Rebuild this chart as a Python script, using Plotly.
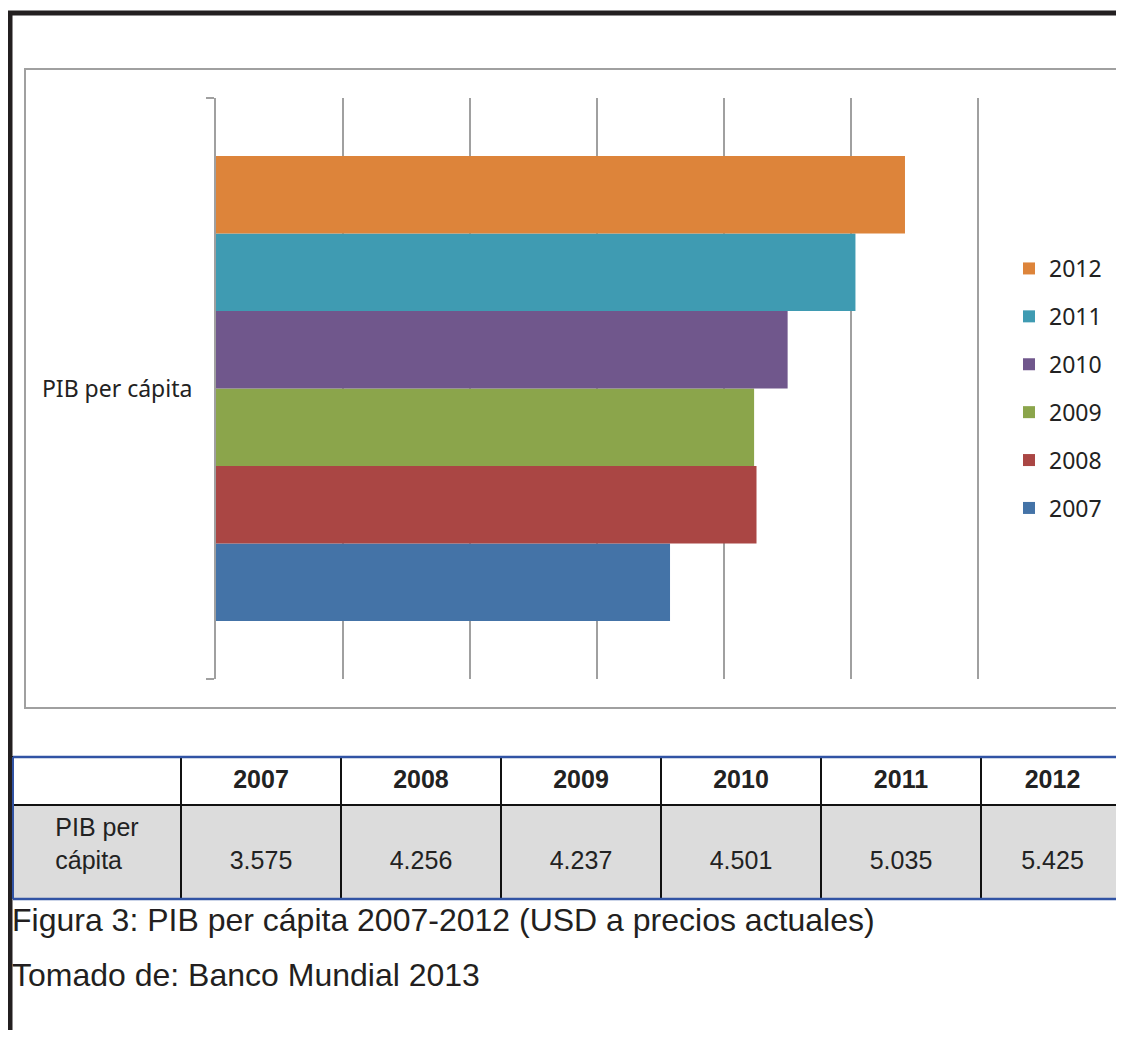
import plotly.graph_objects as go

# ---- data ----
years = ["2007", "2008", "2009", "2010", "2011", "2012"]
gdp_per_capita = [3575, 4256, 4237, 4501, 5035, 5425]
category = "PIB per cápita"
row_label = "PIB per<br>cápita"
colors = ["#4473A7", "#AA4644", "#8BA54B", "#70578C", "#3F9BB2", "#DD843A"]
caption_1 = "Figura 3: PIB per cápita 2007-2012 (USD a precios actuales)"
caption_2 = "Tomado de: Banco Mundial 2013"

# page has an 8px body margin: figure starts at (8, 8)
OFF = 8
W, H = 1124 - OFF, 1038 - 2 * OFF


def px(x):
    return (x - OFF) / W


def py(y):
    return 1 - (y - OFF) / H


fig = go.Figure()
n = len(years)
for i, (yr, val, col) in enumerate(zip(years, gdp_per_capita, colors)):
    fig.add_trace(go.Bar(
        x=[val], y=[category], orientation="h", name=yr, legendgroup=yr,
        legendrank=n - i,
        marker=dict(color=col, line=dict(width=0)),
        hoverinfo="x+name",
    ))


def fmt(v):
    return f"{v:,}".replace(",", ".")


tfont = "Liberation Sans, Arial"
fig.add_trace(go.Table(
    domain=dict(x=[px(13), 1.0], y=[max(0, py(899)), py(757)]),
    columnwidth=[168, 160, 160, 160, 160, 160, 143],
    header=dict(
        values=[""] + [f"<b>{y}</b>" for y in years],
        height=48, align="center",
        fill=dict(color="white"),
        line=dict(color="#111111", width=2),
        font=dict(family=tfont, size=25, color="#222222"),
    ),
    cells=dict(
        values=[[row_label]] + [["&nbsp;<br>" + fmt(v)] for v in gdp_per_capita],
        height=94, align="center",
        fill=dict(color="#DCDCDC"),
        line=dict(color="#111111", width=2),
        font=dict(family=tfont, size=25, color="#222222"),
    ),
))

grid_col = "#A0A0A0"
shapes = [
    # outer frame
    dict(type="line", xref="paper", yref="paper", x0=px(10), x1=px(10), y0=py(11), y1=0,
         line=dict(color="#231F20", width=5)),
    dict(type="line", xref="paper", yref="paper", x0=px(8), x1=1, y0=py(13), y1=py(13),
         line=dict(color="#231F20", width=5)),
    # chart area border
    dict(type="rect", xref="paper", yref="paper", x0=px(25), x1=px(1123), y0=py(69), y1=py(708),
         line=dict(color=grid_col, width=2), layer="below"),
    # table blue borders
    dict(type="line", xref="paper", yref="paper", x0=px(13), x1=1, y0=py(757), y1=py(757),
         line=dict(color="#3153A4", width=2.5)),
    dict(type="line", xref="paper", yref="paper", x0=px(13), x1=1, y0=py(899), y1=py(899),
         line=dict(color="#3153A4", width=2.5)),
    dict(type="line", xref="paper", yref="paper", x0=px(13), x1=px(13), y0=py(757), y1=py(899),
         line=dict(color="#3153A4", width=2)),
]

cfont = dict(family="Liberation Sans, Arial", size=32, color="#231F20")
annotations = [
    dict(text=caption_1, xref="paper", yref="paper", x=px(10), y=py(920), xanchor="left",
         yanchor="middle", showarrow=False, font=cfont),
    dict(text=caption_2, xref="paper", yref="paper", x=px(10), y=py(975), xanchor="left",
         yanchor="middle", showarrow=False, font=cfont),
]

XMAX = 6020  # a little past 6000 so the 6000 gridline is kept
fig.update_layout(
    width=W, height=H, autosize=False,
    margin=dict(l=0, r=0, t=0, b=0),
    paper_bgcolor="white", plot_bgcolor="white",
    barmode="group", bargap=0.2, bargroupgap=0,
    showlegend=True,
    legend=dict(
        x=px(1009), y=py(247), xanchor="left", yanchor="top",
        traceorder="grouped", tracegroupgap=15,
        font=dict(family="Noto Sans", size=23, color="#222222"),
        bgcolor="rgba(0,0,0,0)",
    ),
    xaxis=dict(
        domain=[px(216), px(216 + (978 - 216) * XMAX / 6000)], range=[0, XMAX], dtick=1000,
        showticklabels=False, ticks="", showgrid=True, gridcolor=grid_col, gridwidth=2,
        zeroline=False, showline=False, fixedrange=True,
    ),
    yaxis=dict(
        domain=[py(679), py(98)], type="category", range=[-0.5, 0.5],
        tickson="boundaries", ticks="outside", ticklen=8, tickwidth=2, tickcolor=grid_col,
        showline=True, linecolor=grid_col, linewidth=2, showgrid=False, zeroline=False,
        tickfont=dict(family="Noto Sans", size=23, color="#222222"),
        ticklabelstandoff=17, fixedrange=True,
    ),
    shapes=shapes, annotations=annotations,
)

fig.write_html("out.html")
